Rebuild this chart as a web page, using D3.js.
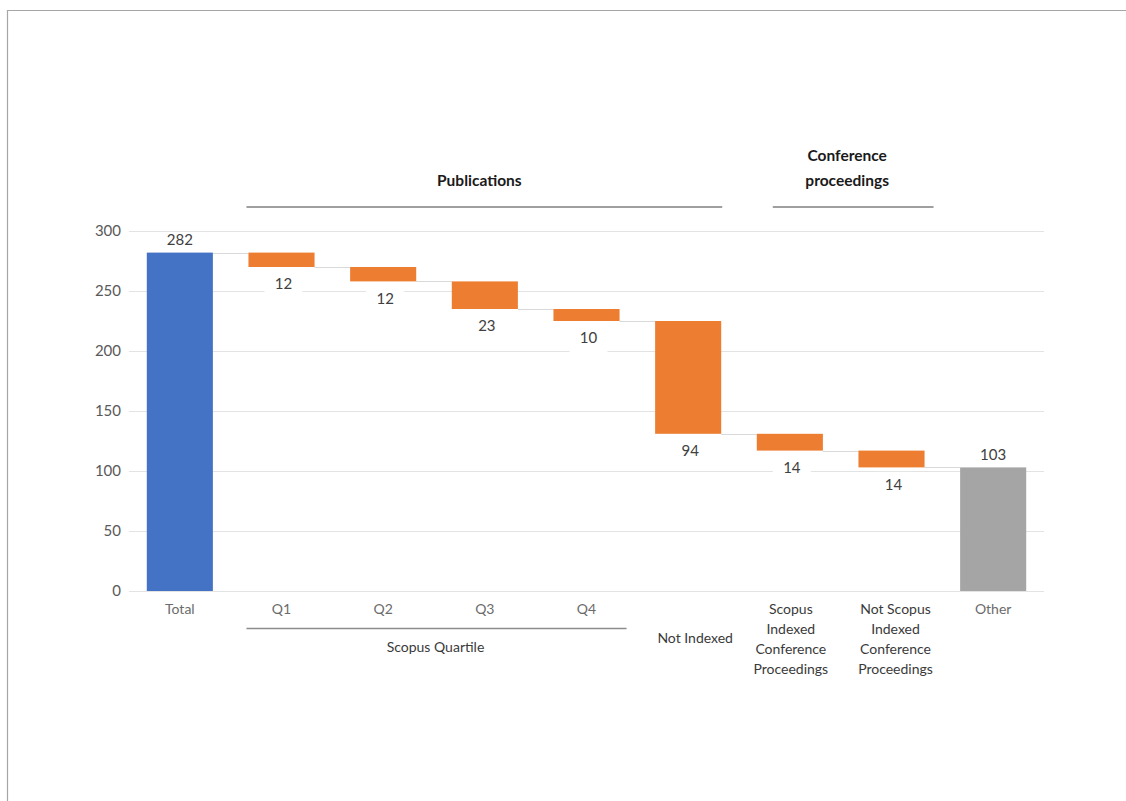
<!DOCTYPE html>
<html>
<head>
<meta charset="utf-8">
<script src="https://cdn.jsdelivr.net/npm/d3@7"></script>
<style>
  html, body { margin: 0; padding: 0; background: #fff; }
  svg { display: block; }
  text { font-family: Lato, "Open Sans", sans-serif; }
</style>
</head>
<body>
<svg id="chart" width="1126" height="801"></svg>
<script>
// ---------- data ----------
const categories = ["Total", "Q1", "Q2", "Q3", "Q4", "Not Indexed",
  "Scopus Indexed Conference Proceedings", "Not Scopus Indexed Conference Proceedings", "Other"];
const values = [282, -12, -12, -23, -10, -94, -14, -14, 103];
const kinds = ["total", "decrease", "decrease", "decrease", "decrease", "decrease", "decrease", "decrease", "total"];
const categoryLabelLines = [
  ["Total"], ["Q1"], ["Q2"], ["Q3"], ["Q4"], ["Not Indexed"],
  ["Scopus", "Indexed", "Conference", "Proceedings"],
  ["Not Scopus", "Indexed", "Conference", "Proceedings"],
  ["Other"]
];
const yTicks = [0, 50, 100, 150, 200, 250, 300];
const topGroupNames = [["Publications"], ["Conference", "proceedings"]];
const topGroupFirst = ["Q1", "Scopus Indexed Conference Proceedings"];
const topGroupLast = ["Not Indexed", "Not Scopus Indexed Conference Proceedings"];
const bottomGroupNames = ["Scopus Quartile"];
const bottomGroupFirst = ["Q1"];
const bottomGroupLast = ["Q4"];

// ---------- layout ----------
const svg = d3.select("#chart");
const colors = { total: "#4472C4", decrease: "#ED7D31", other: "#A5A5A5" };

const x = d3.scaleBand().domain(categories).range([129, 1044]).paddingInner(0.35).paddingOuter(0.175);
const y = d3.scaleLinear().domain([0, 300]).range([591, 231]);

// frame
svg.append("line").attr("x1", 7).attr("x2", 1126).attr("y1", 10.5).attr("y2", 10.5)
  .attr("stroke", "#a6a6a6").attr("stroke-width", 1.2);
svg.append("line").attr("x1", 7.5).attr("x2", 7.5).attr("y1", 10).attr("y2", 801)
  .attr("stroke", "#a6a6a6").attr("stroke-width", 1.2);

// compute waterfall
let running = 0;
const bars = categories.map((c, i) => {
  let start, end;
  if (kinds[i] === "total") { start = 0; end = values[i]; running = values[i]; }
  else { start = running; end = running + values[i]; running = end; }
  return { cat: c, i, start, end, value: values[i], kind: kinds[i] };
});

// gridlines
svg.append("g").selectAll("line").data(yTicks).join("line")
  .attr("x1", 129).attr("x2", 1044)
  .attr("y1", d => Math.round(y(d)) + 0.5).attr("y2", d => Math.round(y(d)) + 0.5)
  .attr("stroke", "#e3e3e3").attr("stroke-width", 1);

// y axis tick labels (via d3 axis)
const yAxis = d3.axisLeft(y).tickValues(yTicks).tickSize(0).tickPadding(0);
const gy = svg.append("g").attr("transform", "translate(121,0)").call(yAxis);
gy.select(".domain").remove();
gy.selectAll("text").attr("fill", "#595959").style("font-size", "15px")
  .style("font-family", "Lato, 'Open Sans', sans-serif");

// connectors
const conn = svg.append("g");
for (let i = 0; i < bars.length - 1; i++) {
  const level = bars[i].end;
  const yy = Math.round(y(level)) + 0.5;
  conn.append("line")
    .attr("x1", x(bars[i].cat) + x.bandwidth()).attr("x2", x(bars[i + 1].cat))
    .attr("y1", yy).attr("y2", yy)
    .attr("stroke", "#d9d9d9").attr("stroke-width", 1);
}

// bars
svg.append("g").selectAll("rect").data(bars).join("rect")
  .attr("x", d => x(d.cat))
  .attr("width", x.bandwidth())
  .attr("y", d => y(Math.max(d.start, d.end)))
  .attr("height", d => Math.abs(y(d.start) - y(d.end)))
  .attr("fill", d => d.kind === "decrease" ? colors.decrease : (d.i === 0 ? colors.total : colors.other));

// value labels
const lab = svg.append("g");
bars.forEach(d => {
  const cx = x(d.cat) + x.bandwidth() / 2;
  if (d.kind === "total") {
    lab.append("text").attr("x", cx).attr("y", y(d.end) - 11)
      .attr("text-anchor", "middle").attr("dominant-baseline", "middle")
      .attr("fill", "#404040").style("font-size", "15px").text(d.value);
  } else {
    const bottom = y(Math.min(d.start, d.end));
    const cy = bottom + 18.5;
    lab.append("rect").attr("x", cx - 17).attr("y", cy - 14).attr("width", 38).attr("height", 27)
      .attr("fill", "#fff");
    lab.append("text").attr("x", cx + 2).attr("y", cy)
      .attr("text-anchor", "middle").attr("dominant-baseline", "middle")
      .attr("fill", "#404040").style("font-size", "15px").text(Math.abs(d.value));
  }
});

// category labels
const catG = svg.append("g");
categories.forEach((c, i) => {
  const cx = x(c) + x.bandwidth() / 2;
  const lines = categoryLabelLines[i];
  const isAxisLike = ["Total", "Q1", "Q2", "Q3", "Q4", "Other"].includes(c);
  const startY = (c === "Not Indexed") ? 639 : 610;
  const dx = (c === "Not Indexed") ? 7 : (c.startsWith("Not Scopus") ? 4 : (c.startsWith("Scopus") ? 1 : 0));
  const t = catG.append("text").attr("text-anchor", "middle")
    .attr("fill", isAxisLike ? "#6b6b6b" : "#3a3a3a").style("font-size", "14px");
  lines.forEach((ln, k) => {
    t.append("tspan").attr("x", cx + dx).attr("y", startY + k * 20.3)
      .attr("dominant-baseline", "middle").text(ln);
  });
});

// bottom group (Scopus Quartile)
bottomGroupNames.forEach((name, gi) => {
  const x1 = x(bottomGroupFirst[gi]) - 2;
  const x2 = x(bottomGroupLast[gi]) + x.bandwidth() + 7;
  svg.append("line").attr("x1", x1).attr("x2", x2).attr("y1", 628.5).attr("y2", 628.5)
    .attr("stroke", "#8c8c8c").attr("stroke-width", 1.3);
  svg.append("text").attr("x", (x1 + x2) / 2 - 1).attr("y", 648)
    .attr("text-anchor", "middle").attr("dominant-baseline", "middle")
    .attr("fill", "#3a3a3a").style("font-size", "14px").text(name);
});

// top groups
const topOffsets = [[-2, 1], [16, 9]];
const topTextShift = [-5, -6];
topGroupNames.forEach((lines, gi) => {
  const x1 = x(topGroupFirst[gi]) + topOffsets[gi][0];
  const x2 = x(topGroupLast[gi]) + x.bandwidth() + topOffsets[gi][1];
  svg.append("line").attr("x1", x1).attr("x2", x2).attr("y1", 207).attr("y2", 207)
    .attr("stroke", "#7f7f7f").attr("stroke-width", 1.3);
  const cx = (x1 + x2) / 2 + topTextShift[gi];
  const t = svg.append("text").attr("text-anchor", "middle")
    .attr("fill", "#1a1a1a").style("font-size", "15.5px").style("font-weight", "bold");
  const baseY = 182 - (lines.length - 1) * 24.5;
  lines.forEach((ln, k) => {
    t.append("tspan").attr("x", cx).attr("y", baseY + k * 24.5)
      .attr("dominant-baseline", "middle").text(ln);
  });
});
</script>
</body>
</html>
